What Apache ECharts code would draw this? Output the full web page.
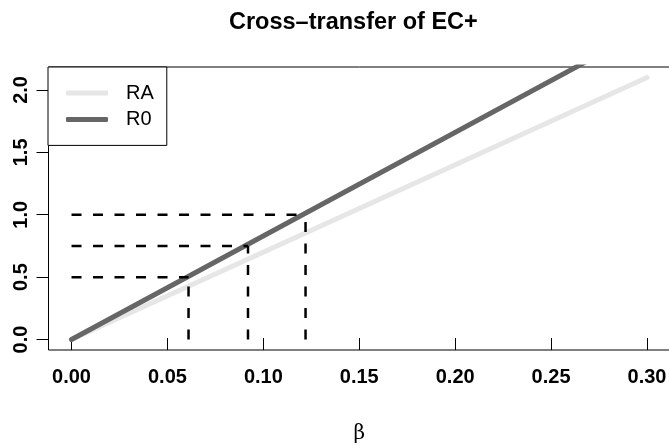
<!DOCTYPE html>
<html>
<head>
<meta charset="utf-8">
<script src="https://cdn.jsdelivr.net/npm/echarts@6/dist/echarts.min.js"></script>
<style>html,body{margin:0;padding:0;background:#fff;}#c{width:669px;height:445px;}</style>
</head>
<body>
<div id="c"></div>
<script>
// ---- data ----
var betaValues = [0, 0.30];
var raValues = [0, 2.10];
var r0Values = [0, 2.49];
var thresholdLevels = [0.5, 0.75, 1.0];
var crossBetas = [0.061, 0.092, 0.122];
var xTickMin = 0, xTickMax = 0.30, xTickStep = 0.05;
var yTickMin = 0, yTickMax = 2.0, yTickStep = 0.5;
var xRange = [-0.012, 0.312];
var yRange = [-0.084, 2.184];

function pairs(xs, ys) { return xs.map(function (x, i) { return [x, ys[i]]; }); }

var series = [
  { name: 'RA', type: 'line', data: pairs(betaValues, raValues), symbol: 'none', clip: true,
    lineStyle: { color: '#e6e6e6', width: 5, cap: 'round' }, itemStyle: { color: '#e6e6e6' } },
  { name: 'R0', type: 'line', data: pairs(betaValues, r0Values), symbol: 'none', clip: true,
    lineStyle: { color: '#666666', width: 5, cap: 'round' }, itemStyle: { color: '#666666' } }
];
thresholdLevels.forEach(function (h, i) {
  var b = crossBetas[i];
  series.push({ type: 'line', data: [[0, h], [b, h]], symbol: 'none', silent: true,
    lineStyle: { color: '#000', width: 2.5, type: [10, 11.5] } });
  series.push({ type: 'line', data: [[b, 0], [b, h]], symbol: 'none', silent: true,
    lineStyle: { color: '#000', width: 2.5, type: [10, 11.5] } });
});

// plot region (box) geometry
var W = 669, H = 445;
var boxL = 48.5, boxR = 670, boxT = 67, boxB = 350;
function xPix(v) { return boxL + (v - xRange[0]) / (xRange[1] - xRange[0]) * (boxR - boxL); }
function yPix(v) { return boxT + (yRange[1] - v) / (yRange[1] - yRange[0]) * (boxB - boxT); }

var labelFont = { color: '#000', fontFamily: 'Liberation Sans', fontWeight: 'bold', fontSize: 20 };

var chart = echarts.init(document.getElementById('c'), null, { renderer: 'canvas' });
chart.setOption({
  animation: false,
  backgroundColor: '#fff',
  title: {
    text: 'Cross\u2013transfer of EC+', left: 224, top: 6,
    textStyle: { fontFamily: 'Liberation Sans', fontWeight: 'bold', fontSize: 23.5, color: '#000' }
  },
  legend: {
    data: [{ name: 'RA', icon: 'roundRect' }, { name: 'R0', icon: 'roundRect' }],
    orient: 'vertical', left: 48, top: 67,
    backgroundColor: '#fff', borderColor: '#000', borderWidth: 1, borderRadius: 0,
    padding: [16, 13, 16, 18], itemWidth: 42, itemHeight: 5, itemGap: 6.4, itemTextGap: 18,
    textStyle: { fontFamily: 'Liberation Sans', fontSize: 20, color: '#000', padding: [0, 0, 0, 13] }
  },
  grid: [
    { left: boxL, top: boxT, right: W - boxR, bottom: H - boxB, show: true, borderColor: '#000', borderWidth: 1,
      containLabel: false, outerBoundsMode: 'none' },
    { left: xPix(xTickMin), right: W - xPix(xTickMax), top: yPix(yTickMax), bottom: H - yPix(yTickMin),
      show: false, containLabel: false, outerBoundsMode: 'none' }
  ],
  xAxis: [
    { type: 'value', gridIndex: 0, min: xRange[0], max: xRange[1],
      name: '\u03b2', nameLocation: 'middle', nameGap: 74,
      nameTextStyle: { fontFamily: 'DejaVu Serif', fontSize: 20, color: '#000' },
      splitLine: { show: false }, axisLine: { show: false, onZero: false }, axisTick: { show: false }, axisLabel: { show: false } },
    { type: 'value', gridIndex: 1, min: xTickMin, max: xTickMax, interval: xTickStep,
      offset: boxB - yPix(yTickMin),
      splitLine: { show: false }, axisLine: { show: false, onZero: false },
      axisTick: { show: true, inside: true, length: 12, lineStyle: { color: '#000', width: 1 } },
      axisLabel: Object.assign({ margin: 17, formatter: function (v) { return v.toFixed(2); } }, labelFont) }
  ],
  yAxis: [
    { type: 'value', gridIndex: 0, min: yRange[0], max: yRange[1],
      splitLine: { show: false }, axisLine: { show: false, onZero: false }, axisTick: { show: false }, axisLabel: { show: false } },
    { type: 'value', gridIndex: 1, min: yTickMin, max: yTickMax, interval: yTickStep,
      offset: xPix(xTickMin) - boxL,
      splitLine: { show: false }, axisLine: { show: false, onZero: false },
      axisTick: { show: true, inside: false, length: 12, lineStyle: { color: '#000', width: 1 } },
      axisLabel: Object.assign({ margin: 17, rotate: 90, formatter: function (v) { return v.toFixed(1); } }, labelFont) }
  ],
  series: series
});
</script>
</body>
</html>
